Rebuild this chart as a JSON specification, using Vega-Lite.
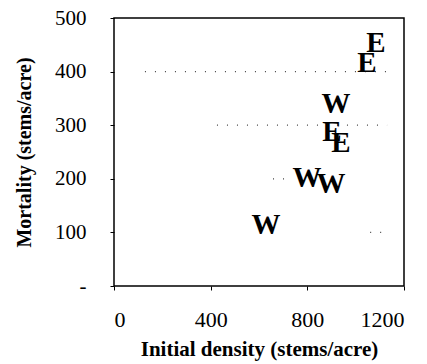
{
  "$schema": "https://vega.github.io/schema/vega-lite/v6.json",
  "width": 290,
  "height": 268,
  "autosize": "none",
  "padding": {"left": 114, "top": 18, "right": 23, "bottom": 78},
  "background": "white",
  "config": {
    "view": {"stroke": "black", "strokeWidth": 1.5},
    "font": "Liberation Serif"
  },
  "layer": [
    {
      "data": {"values": [
        {"y": 400, "x1": 128, "x2": 1130},
        {"y": 300, "x1": 426, "x2": 1130},
        {"y": 200, "x1": 658, "x2": 716},
        {"y": 100, "x1": 1060, "x2": 1130}
      ]},
      "mark": {"type": "rule", "strokeDash": [1, 9], "color": "#444", "strokeWidth": 1.2},
      "encoding": {
        "x": {"field": "x1", "type": "quantitative", "scale": {"domain": [0, 1200]}},
        "x2": {"field": "x2"},
        "y": {"field": "y", "type": "quantitative", "scale": {"domain": [0, 500]}}
      }
    },
    {
      "data": {"values": [
        {"density": 629, "mortality": 114, "label": "W"},
        {"density": 799, "mortality": 201, "label": "W"},
        {"density": 898, "mortality": 190, "label": "W"},
        {"density": 919, "mortality": 340, "label": "W"},
        {"density": 902, "mortality": 287, "label": "E"},
        {"density": 939, "mortality": 267, "label": "E"},
        {"density": 1047, "mortality": 416, "label": "E"},
        {"density": 1084, "mortality": 453, "label": "E"}
      ]},
      "mark": {"type": "text", "font": "Liberation Serif", "fontWeight": "bold", "fontSize": 29, "color": "black", "align": "center", "baseline": "middle"},
      "encoding": {
        "x": {
          "field": "density", "type": "quantitative",
          "scale": {"domain": [0, 1200]},
          "axis": {
            "title": "Initial density (stems/acre)",
            "values": [0, 400, 800, 1200],
            "format": "d",
            "grid": false, "domain": false,
            "tickColor": "black", "tickSize": 4,
            "labelFont": "Liberation Serif", "labelFontSize": 22, "labelColor": "black",
            "labelPadding": 19,
            "titleFont": "Liberation Serif", "titleFontSize": 21, "titleFontWeight": "bold", "titleColor": "black",
            "titlePadding": 8
          }
        },
        "y": {
          "field": "mortality", "type": "quantitative",
          "scale": {"domain": [0, 500]},
          "axis": {
            "title": "Mortality (stems/acre)",
            "values": [0, 100, 200, 300, 400, 500],
            "format": "d",
            "labelExpr": "datum.value == 0 ? '-\u2007\u2007\u2005' : datum.label",
            "grid": false, "domain": false,
            "tickColor": "black", "tickSize": 4,
            "labelFont": "Liberation Serif", "labelFontSize": 21, "labelColor": "black",
            "labelPadding": 24,
            "titleFont": "Liberation Serif", "titleFontSize": 20, "titleFontWeight": "bold", "titleColor": "black",
            "titlePadding": 20
          }
        },
        "text": {"field": "label"}
      }
    }
  ]
}
